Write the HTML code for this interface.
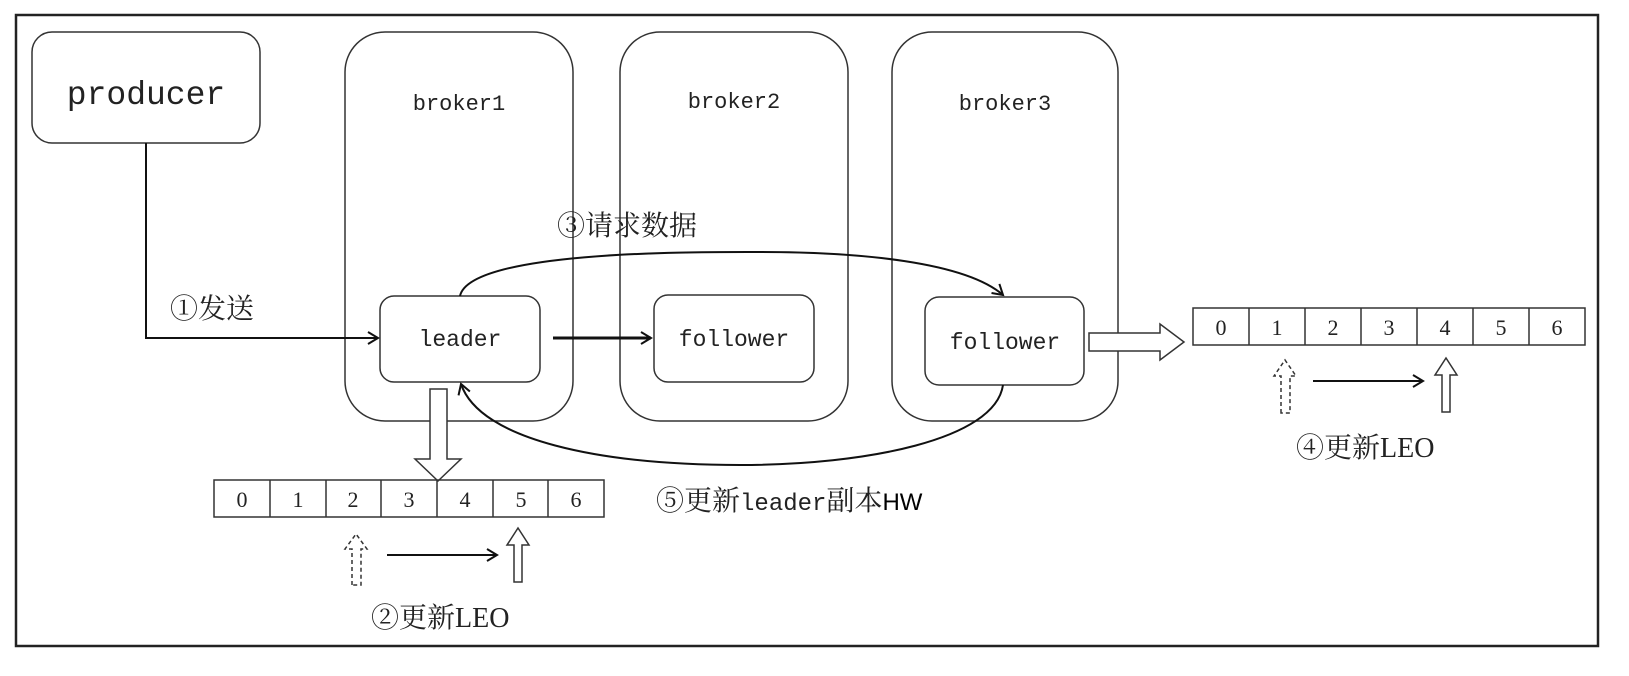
<!DOCTYPE html>
<html><head><meta charset="utf-8"><style>
html,body{margin:0;padding:0;background:#fff;}
svg{display:block;}
.m{font-family:"Liberation Mono","Noto Serif CJK SC",monospace;fill:#222;}
.c{font-family:"Liberation Serif","Noto Serif CJK SC",serif;fill:#222;}
</style></head><body>
<svg width="1629" height="676" viewBox="0 0 1629 676" xmlns="http://www.w3.org/2000/svg">
<defs>
<marker id="ah" markerWidth="14" markerHeight="14" refX="11" refY="7" orient="auto" markerUnits="userSpaceOnUse">
<path d="M1,1 L11,7 L1,13" fill="none" stroke="#111" stroke-width="2"/>
</marker>
</defs>
<rect x="16" y="15" width="1582" height="631" fill="none" stroke="#222" stroke-width="2.5"/>
<!-- producer -->
<rect x="32" y="32" width="228" height="111" rx="20" fill="none" stroke="#333" stroke-width="1.5"/>
<text x="146" y="104" text-anchor="middle" class="m" font-size="33">producer</text>
<!-- brokers -->
<rect x="345" y="32" width="228" height="389" rx="40" fill="none" stroke="#333" stroke-width="1.5"/>
<rect x="620" y="32" width="228" height="389" rx="40" fill="none" stroke="#333" stroke-width="1.5"/>
<rect x="892" y="32" width="226" height="389" rx="40" fill="none" stroke="#333" stroke-width="1.5"/>
<text x="459" y="110" text-anchor="middle" class="m" font-size="22">broker1</text>
<text x="734" y="108" text-anchor="middle" class="m" font-size="22">broker2</text>
<text x="1005" y="110" text-anchor="middle" class="m" font-size="22">broker3</text>
<!-- inner boxes -->
<rect x="380" y="296" width="160" height="86" rx="14" fill="#fff" stroke="#333" stroke-width="1.5"/>
<text x="460" y="346" text-anchor="middle" class="m" font-size="23">leader</text>
<rect x="654" y="295" width="160" height="87" rx="14" fill="#fff" stroke="#333" stroke-width="1.5"/>
<text x="734" y="346" text-anchor="middle" class="m" font-size="23">follower</text>
<rect x="925" y="297" width="159" height="88" rx="14" fill="#fff" stroke="#333" stroke-width="1.5"/>
<text x="1005" y="349" text-anchor="middle" class="m" font-size="23">follower</text>
<!-- producer line -->
<path d="M146,143 L146,338 L378,338" fill="none" stroke="#111" stroke-width="2" marker-end="url(#ah)"/>
<text x="170" y="318" class="c" font-size="28">①发送</text>
<!-- bold arrow -->
<path d="M553,338 L651,338" fill="none" stroke="#111" stroke-width="3" marker-end="url(#ah)"/>
<text x="557" y="235" class="c" font-size="28">③请求数据</text>
<!-- top curve -->
<path d="M460,296 C470,250 700,252 760,252 C860,252 965,262 1003,295" fill="none" stroke="#111" stroke-width="2" marker-end="url(#ah)"/>
<!-- bottom curve -->
<path d="M1003,385 C995,440 865,465 740,465 C600,465 480,440 461,384" fill="none" stroke="#111" stroke-width="2" marker-end="url(#ah)"/>
<text x="656" y="510" class="c" font-size="28">⑤更新<tspan class="m" font-size="24">leader</tspan>副本<tspan font-family="Liberation Sans, sans-serif" font-size="24" fill="#000">HW</tspan></text>
<!-- hollow down arrow -->
<path d="M430,389 L447,389 L447,459 L461,459 L438,481 L415,459 L430,459 Z" fill="#fff" stroke="#333" stroke-width="1.5"/>
<!-- array 1 -->
<g stroke="#333" stroke-width="1.5" fill="none">
<rect x="214" y="480" width="390" height="37"/>
<line x1="270" y1="480" x2="270" y2="517"/><line x1="326" y1="480" x2="326" y2="517"/>
<line x1="381" y1="480" x2="381" y2="517"/><line x1="437" y1="480" x2="437" y2="517"/>
<line x1="493" y1="480" x2="493" y2="517"/><line x1="548" y1="480" x2="548" y2="517"/>
</g>
<g class="c" font-size="22" text-anchor="middle">
<text x="242" y="507">0</text><text x="298" y="507">1</text><text x="353" y="507">2</text><text x="409" y="507">3</text><text x="465" y="507">4</text><text x="521" y="507">5</text><text x="576" y="507">6</text>
</g>
<path d="M352,585 L352,549 L345,549 L356,534 L367,549 L361,549 L361,585 Z" fill="none" stroke="#333" stroke-width="1.5" stroke-dasharray="4,3"/>
<path d="M514,582 L514,545 L507,545 L518,528 L529,545 L522,545 L522,582 Z" fill="#fff" stroke="#333" stroke-width="1.5"/>
<path d="M387,555 L497,555" stroke="#111" stroke-width="2" marker-end="url(#ah)"/>
<text x="371" y="627" class="c" font-size="28">②更新LEO</text>
<!-- hollow right arrow -->
<path d="M1089,333 L1160,333 L1160,324 L1184,342 L1160,360 L1160,351 L1089,351 Z" fill="#fff" stroke="#333" stroke-width="1.5"/>
<!-- array 2 -->
<g stroke="#333" stroke-width="1.5" fill="none">
<rect x="1193" y="308" width="392" height="37"/>
<line x1="1249" y1="308" x2="1249" y2="345"/><line x1="1305" y1="308" x2="1305" y2="345"/>
<line x1="1361" y1="308" x2="1361" y2="345"/><line x1="1417" y1="308" x2="1417" y2="345"/>
<line x1="1473" y1="308" x2="1473" y2="345"/><line x1="1529" y1="308" x2="1529" y2="345"/>
</g>
<g class="c" font-size="22" text-anchor="middle">
<text x="1221" y="335">0</text><text x="1277" y="335">1</text><text x="1333" y="335">2</text><text x="1389" y="335">3</text><text x="1445" y="335">4</text><text x="1501" y="335">5</text><text x="1557" y="335">6</text>
</g>
<path d="M1281,413 L1281,376 L1274,376 L1285,360 L1296,376 L1290,376 L1290,413 Z" fill="none" stroke="#333" stroke-width="1.5" stroke-dasharray="4,3"/>
<path d="M1442,412 L1442,375 L1435,375 L1446,358 L1457,375 L1450,375 L1450,412 Z" fill="#fff" stroke="#333" stroke-width="1.5"/>
<path d="M1313,381 L1423,381" stroke="#111" stroke-width="2" marker-end="url(#ah)"/>
<text x="1296" y="457" class="c" font-size="28">④更新LEO</text>
</svg>
</body></html>
